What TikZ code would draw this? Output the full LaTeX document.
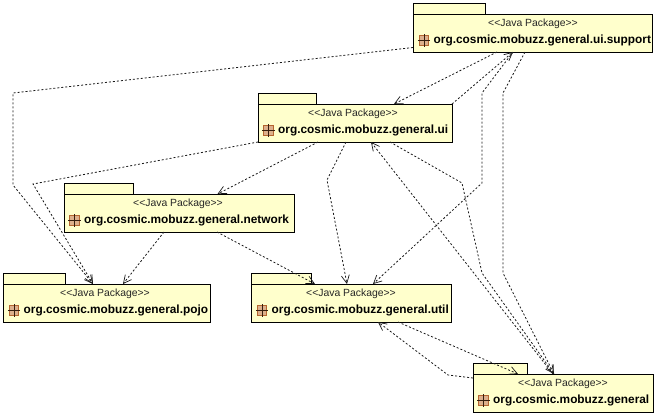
\documentclass[tikz,border=0pt]{standalone}
\usepackage{fontspec}
\setmainfont{Liberation Sans}
\usetikzlibrary{arrows.meta}
\definecolor{pkgfill}{HTML}{FFFFCC}
\definecolor{iconfill}{HTML}{DDB08C}
\definecolor{iconline}{HTML}{B5652F}
\tikzset{
  pkgbody/.style={draw=black,fill=pkgfill,line width=1pt,inner sep=0pt,outer sep=0pt,anchor=north west,minimum height=38pt},
  pkgtab/.style={draw=black,fill=pkgfill,line width=1pt,inner sep=0pt,outer sep=0pt,anchor=south west,minimum height=11pt},
  stereotext/.style={inner sep=0pt,font=\fontsize{10.4}{12}\selectfont,text=black!85},
  titletext/.style={inner sep=0pt,anchor=west,font=\fontsize{11.85}{14}\selectfont\bfseries},
  iconbox/.style={draw=iconline,fill=iconfill,line width=.9pt,inner sep=0pt,outer sep=0pt,minimum size=9.5pt},
  dep/.style={draw=black!90,line width=.8pt,dash pattern=on 2pt off 2pt},
  deparrow/.style={dep,-{Straight Barb[length=8pt,width=8pt,line width=.7pt]}}
}
% name, x, y, body width, tab width, stereotype centre x, title left x, title
\newcommand{\pkgshape}[8]{%
  \node[pkgtab,minimum width=#5pt] (#1tab) at (#2,#3) {};
  \node[pkgbody,minimum width=#4pt] (#1) at (#2,#3) {};
  \node[stereotext] (#1st) at (#6,#3+10) {{<}{<}Java Package{>}{>}};
  \node[titletext] (#1ti) at (#7,#3+26.5) {#8};
  \node[iconbox] (#1ic) at (#7-9.5,#3+26.5) {};
  \draw[draw=black!70!iconline,line width=.5pt] (#1ic.west) ++(-1.5pt,0) -- ([xshift=1.5pt]#1ic.east);
  \draw[draw=black!70!iconline,line width=.5pt] (#1ic.north) ++(0,1.5pt) -- ([yshift=-1.5pt]#1ic.south);
}
\begin{document}
\begin{tikzpicture}[x=1pt,y=-1pt]
\useasboundingbox[fill=white] (0,0) rectangle (657,416);
\pkgshape{sup}{413}{14}{239}{72}{533}{433.5}{org.cosmic.mobuzz.general.ui.support}
\pkgshape{ui}{258}{104}{194}{58}{353}{278}{org.cosmic.mobuzz.general.ui}
\pkgshape{net}{64}{194}{230}{69}{178}{84}{org.cosmic.mobuzz.general.network}
\pkgshape{poj}{3}{284}{207}{62}{105}{23.5}{org.cosmic.mobuzz.general.pojo}
\pkgshape{utl}{251}{284}{200}{60}{351}{271.5}{org.cosmic.mobuzz.general.util}
\pkgshape{gen}{473}{374}{180}{54}{563}{493}{org.cosmic.mobuzz.general}
\coordinate (b1a) at (13,93);
\coordinate (b1b) at (13,185);
\coordinate (b2) at (33,184);
\coordinate (b4) at (327,180);
\coordinate (b5a) at (462,183);
\coordinate (b5b) at (482,273);
\coordinate (b8a) at (482,93);
\coordinate (b8b) at (482,183);
\coordinate (b9a) at (503,93);
\coordinate (b9b) at (503,273);
\coordinate (b14) at (448,375);
\draw[deparrow] ([yshift=4.5pt]sup.south west) -- (b1a) -- (b1b) -- ([xshift=90pt]poj.north west);
\draw[deparrow] (ui.south west) -- (b2) -- ([xshift=90pt]poj.north west);
\draw[deparrow] ([xshift=60pt]ui.south west) -- ([xshift=153.5pt]net.north west);
\draw[deparrow] ([xshift=88pt]ui.south west) -- (b4) -- ([xshift=96pt]utl.north west);
\draw[deparrow] ([xshift=132pt]ui.south west) -- (b5a) -- (b5b) -- ([xshift=81pt]gen.north west);
\draw[deparrow] ([xshift=84pt]sup.south west) -- ([xshift=136pt]ui.north west);
\draw[deparrow] (ui.north east) -- ([xshift=100pt]sup.south west);
\draw[deparrow] ([xshift=100pt]sup.south west) -- (b8a) -- (b8b) -- ([xshift=122pt]utl.north west);
\draw[deparrow] ([xshift=112pt]sup.south west) -- (b9a) -- (b9b) -- ([xshift=81pt]gen.north west);
\draw[deparrow] ([xshift=80pt]gen.north west) -- ([xshift=113pt]ui.south west);
\draw[deparrow] ([xshift=100pt]net.south west) -- ([xshift=120pt]poj.north west);
\draw[deparrow] ([xshift=153pt]net.south west) -- ([xshift=64pt]utl.north west);
\draw[deparrow] ([xshift=147pt]utl.south west) -- ([xshift=45pt]gen.north west);
\draw[deparrow] ([yshift=-4pt]gen.north west) -- (b14) -- ([xshift=127pt]utl.south west);
\end{tikzpicture}
\end{document}
